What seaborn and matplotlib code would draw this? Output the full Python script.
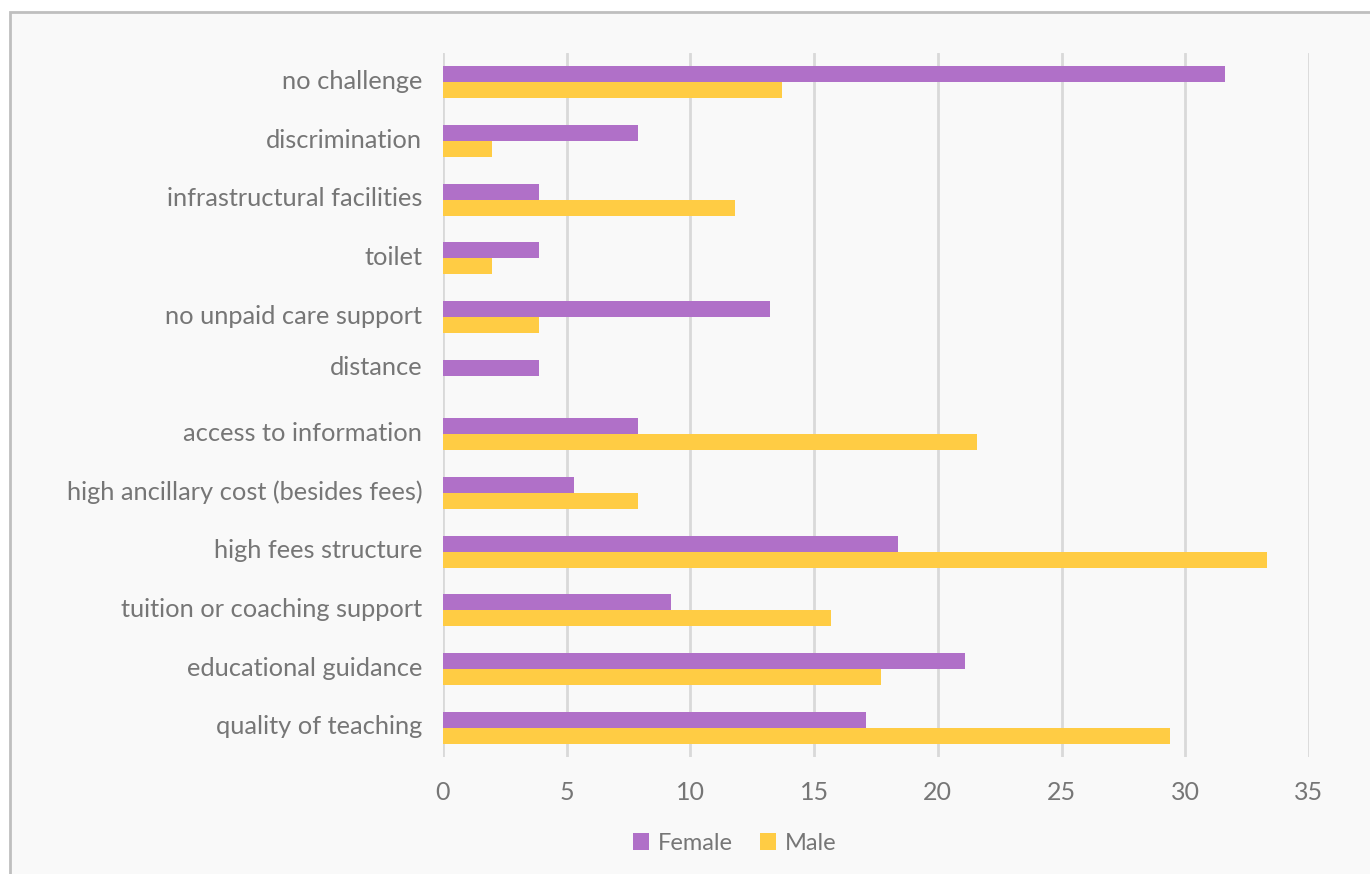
import matplotlib
matplotlib.use("Agg")
import matplotlib.pyplot as plt
import matplotlib.transforms as mtransforms
from matplotlib.patches import Rectangle
import seaborn as sns
import pandas as pd

categories = [
    "no challenge",
    "discrimination",
    "infrastructural facilities",
    "toilet",
    "no unpaid care support",
    "distance",
    "access to information",
    "high ancillary cost (besides fees)",
    "high fees structure",
    "tuition or coaching support",
    "educational guidance",
    "quality of teaching",
]
female = [31.6, 7.9, 3.9, 3.9, 13.2, 3.9, 7.9, 5.3, 18.4, 9.2, 21.1, 17.1]
male = [13.7, 2.0, 11.8, 2.0, 3.9, 0.0, 21.6, 7.9, 33.3, 15.7, 17.7, 29.4]
series = ["Female", "Male"]
x_ticks = [0, 5, 10, 15, 20, 25, 30, 35]

df = pd.DataFrame({
    "challenge": categories * 2,
    "gender": [series[0]] * len(categories) + [series[1]] * len(categories),
    "percent": female + male,
})

sns.set_theme(style="white")
plt.rcParams["font.family"] = ["Lato", "DejaVu Sans"]

text_color = "#767676"
grid_color = "#D9D9D9"
palette = {"Female": "#B070C8", "Male": "#FFCC44"}

fig = plt.figure(figsize=(13.7, 8.74), dpi=100, facecolor="white")
# light panel with a grey frame behind the chart
fig.patches.append(Rectangle((10 / 1370, -0.01), 1.01, 1 - 12 / 874 + 0.01,
                             transform=fig.transFigure, facecolor="#F9F9F9",
                             edgecolor="#BFBFBF", linewidth=2, zorder=-5))

ax = fig.add_axes([443 / 1370, 1 - 757 / 874, (1309 - 443) / 1370, (757 - 53) / 874])
ax.set_facecolor("none")
ax.set_zorder(2)

sns.barplot(data=df, y="challenge", x="percent", hue="gender", order=categories,
            hue_order=series, palette=palette, orient="h", width=0.54, gap=0,
            saturation=1, errorbar=None, legend=False, ax=ax, zorder=3,
            linewidth=0, edgecolor="none")

ax.set_xlim(0, 35)
ax.set_ylim(len(categories) - 0.5, -0.5)
ax.set_xticks(x_ticks)
ax.set_xticklabels([str(t) for t in x_ticks])
ax.grid(axis="x", color=grid_color, linewidth=2, zorder=0)
ax.set_axisbelow(True)
for s in ax.spines.values():
    s.set_visible(False)
ax.set_xlabel("")
ax.set_ylabel("")
ax.tick_params(axis="x", length=0, pad=17, labelsize=18, labelcolor=text_color)
ax.tick_params(axis="y", length=0, pad=15, labelsize=18.3, labelcolor=text_color)

# category labels sit slightly above their bar pairs; "distance" a bit more
for lbl in ax.get_yticklabels():
    shift = 10 if lbl.get_text() == "distance" else 3
    lbl.set_transform(lbl.get_transform() +
                      mtransforms.ScaledTranslation(0, shift / 100, fig.dpi_scale_trans))

handles = [Rectangle((0, 0), 1, 1, facecolor=palette[s], edgecolor="none") for s in series]
fig.legend(handles, series, loc="center", bbox_to_anchor=(0.536, 1 - 843 / 874),
           ncol=2, frameon=False, fontsize=17, labelcolor=text_color,
           handlelength=0.7, handleheight=0.7, handletextpad=0.35, columnspacing=1.15)

fig.savefig("out.png", dpi=100, facecolor="white")
